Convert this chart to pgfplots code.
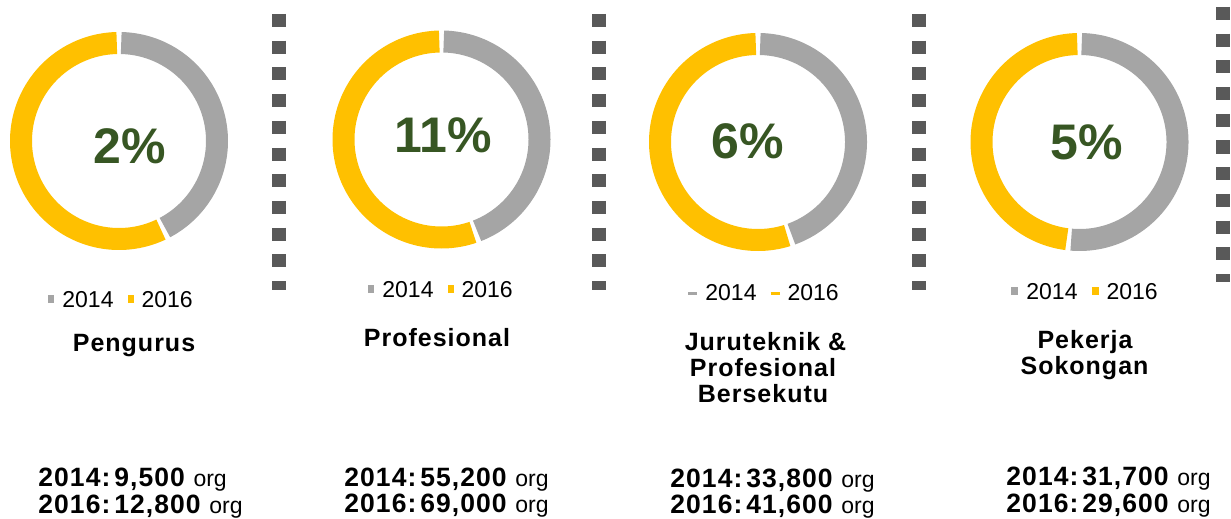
\documentclass[border=0pt]{standalone}
\usepackage{pgfplots}
\pgfplotsset{compat=1.18}
\usepackage{fontspec}
\setmainfont{Liberation Sans}
\newfontfamily\spaced{Liberation Sans}[LetterSpace=4]
\definecolor{g14}{HTML}{A5A5A5}
\definecolor{y16}{HTML}{FFC000}
\definecolor{sepc}{HTML}{595959}
\definecolor{pctgreen}{HTML}{375623}

% donut: cx, cy, value 2014, value 2016
\newcommand\donut[4]{%
  \edef\angv{\fpeval{round(360*#3/(#3+#4),3)}}%
  \edef\ge{\fpeval{\angv-1.3}}%
  \edef\ys{\fpeval{\angv+1.3}}%
  \edef\tmp{\noexpand\addplot[draw=g14, line width=11pt, domain=1.3:\ge, samples=120] ({#1+98*sin(x)},{#2-98*cos(x)});
    \noexpand\addplot[draw=y16, line width=11pt, domain=\ys:358.7, samples=160] ({#1+98*sin(x)},{#2-98*cos(x)});}%
  \tmp}
% legend: x, baseline, marker width (pt), marker height (pt), raise (pt)
\newcommand\lgnd[5]{%
  \node[anchor=base west, inner sep=0, font=\fontsize{11.5}{12}\selectfont] at (axis cs:#1,#2)
   {\textcolor{g14}{\rule[#5pt]{#3pt}{#4pt}}\hspace{4pt}2014\hspace{7pt}\textcolor{y16}{\rule[#5pt]{#3pt}{#4pt}}\hspace{4pt}2016};}
% counts: x, baseline1, baseline2, v14, v16
\newcommand\cnt[5]{%
  \node[anchor=base west, inner sep=0] at (axis cs:#1,#2)
   {{\spaced\bfseries\fontsize{13.25}{14}\selectfont 2014:\hspace{2pt}#4}\hspace{1.5pt} {\fontsize{11.5}{12}\selectfont org}};
  \node[anchor=base west, inner sep=0] at (axis cs:#1,#3)
   {{\spaced\bfseries\fontsize{13.25}{14}\selectfont 2016:\hspace{2pt}#5}\hspace{1.5pt} {\fontsize{11.5}{12}\selectfont org}};}
\newcommand\ttl[3]{%
  \node[anchor=base, inner sep=0, font=\spaced\bfseries\fontsize{12.5}{13}\selectfont] at (axis cs:#1,#2) {#3};}
\newcommand\pct[3]{%
  \node[anchor=base, inner sep=0, text=pctgreen, font=\bfseries\fontsize{25}{26}\selectfont] at (axis cs:#1,#2) {#3};}

\begin{document}
\begin{tikzpicture}
\begin{axis}[
  width=615.5pt, height=259.5pt, scale only axis,
  xmin=0, xmax=1231, ymin=0, ymax=519, y dir=reverse,
  hide axis, clip=false]
\path (axis cs:0,0) rectangle (axis cs:1231,519);

% separators
\addplot[draw=sepc, line width=7pt, dash pattern=on 6.5pt off 6.85pt] coordinates {(279,14) (279,290)};
\addplot[draw=sepc, line width=7pt, dash pattern=on 6.5pt off 6.85pt] coordinates {(599,14) (599,290)};
\addplot[draw=sepc, line width=7pt, dash pattern=on 6.5pt off 6.85pt] coordinates {(919,14) (919,290)};
\addplot[draw=sepc, line width=7pt, dash pattern=on 6.5pt off 6.85pt] coordinates {(1222.5,7) (1222.5,282)};

% donuts
\donut{119}{141}{9500}{12800}
\donut{441.5}{139.5}{55200}{69000}
\donut{758}{142}{33800}{41600}
\donut{1079.5}{142}{31700}{29600}

% percentages
\pct{130}{163}{2\%}
\pct{443.5}{153}{11\%}
\pct{748}{158}{6\%}
\pct{1087}{159}{5\%}

% legends
\lgnd{48}{307}{3}{4}{2}
\lgnd{368}{297}{3}{4}{2}
\lgnd{688}{300}{4.5}{1.5}{2.5}
\lgnd{1011}{299}{3.5}{4}{2}

% titles
\ttl{134}{351}{Pengurus}
\ttl{437}{346}{Profesional}
\ttl{765.5}{350}{Juruteknik \&}
\ttl{763}{376}{Profesional}
\ttl{763}{402}{Bersekutu}
\ttl{1085}{348}{Pekerja}
\ttl{1084.5}{374}{Sokongan}

% counts
\cnt{38}{486}{513}{9,500}{12,800}
\cnt{344}{486}{512}{55,200}{69,000}
\cnt{670}{487}{513}{33,800}{41,600}
\cnt{1006}{485}{512}{31,700}{29,600}
\end{axis}
\end{tikzpicture}
\end{document}
